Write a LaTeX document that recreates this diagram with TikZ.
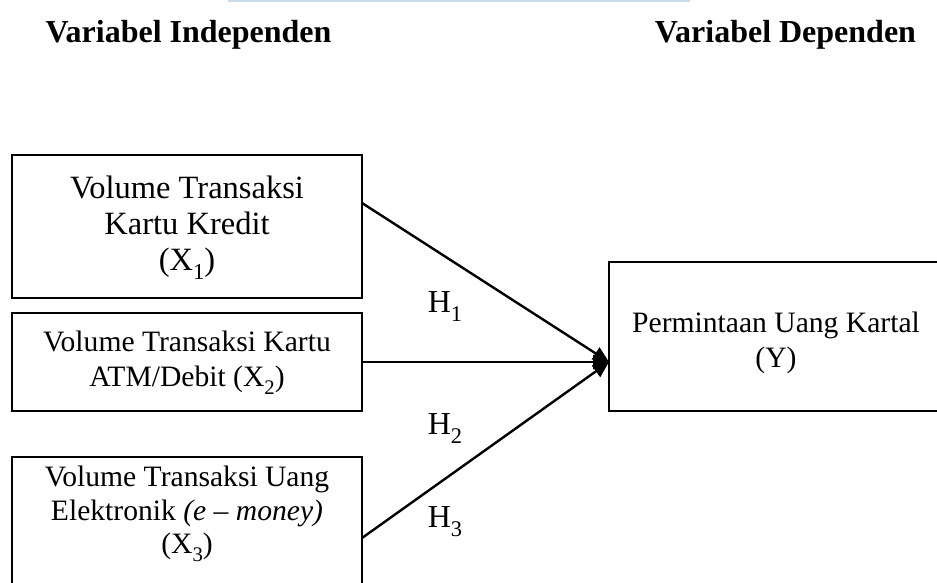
\documentclass[tikz,border=0pt]{standalone}
\usepackage{fontspec}
\setmainfont{Liberation Serif}
\usetikzlibrary{arrows.meta}
\tikzset{
  boxnode/.style={draw=black, line width=1.1pt, inner sep=0pt},
  txt/.style={align=center, font=\fontsize{29.6}{34.5}\selectfont, inner sep=0pt},
  bigtxt/.style={align=center, font=\fontsize{32.5}{36}\selectfont, inner sep=0pt},
  head/.style={font=\fontsize{32}{38}\selectfont\bfseries, anchor=base, inner sep=0pt},
  hlab/.style={font=\fontsize{32}{36}\selectfont, inner sep=0pt},
  link/.style={line width=2.4pt, -{Triangle[length=16pt,width=14pt]}}
}
\newcommand{\Sb}[1]{\raisebox{-0.28em}{\fontsize{0.7em}{0.7em}\selectfont #1}}
\newcommand{\Xs}[1]{X\Sb{#1}}
\begin{document}
\begin{tikzpicture}[x=1pt,y=-1pt]
\clip (0,0) rectangle (937,583);
\fill[fill={rgb,255:red,200;green,220;blue,235}] (228,0) rectangle (690,2.5);
\node[head] (hi) at (188.5,43) {Variabel Independen};
\node[head] (hd) at (785.5,43) {Variabel Dependen};
% boxes
\node[boxnode, minimum width=350pt, minimum height=143pt] (b1) at (187,226.5) {};
\node[bigtxt] (t1) at (187,228) {Volume Transaksi\\Kartu Kredit\\(\Xs{1})};
\node[boxnode, minimum width=350pt, minimum height=98pt] (b2) at (187,362) {};
\node[txt] (t2) at (187,363) {Volume Transaksi Kartu\\ATM/Debit (\Xs{2})};
\node[boxnode, minimum width=350pt, minimum height=150pt] (b3) at (187,532) {};
\node[txt, font=\fontsize{29.6}{33.5}\selectfont] (t3) at (187,514) {Volume Transaksi Uang\\Elektronik \textit{(e -- money)}\\(\Xs{3})};
\node[boxnode, minimum width=360pt, minimum height=149pt] (by) at (789,336.5) {};
\node[txt] (ty) at (776,343) {Permintaan Uang Kartal\\(Y)};
% connectors
\coordinate (tip) at (609,362);
\coordinate (s1) at (362,203);
\coordinate (s3) at (362,538);
\draw[link] (s1) -- (tip);
\draw[link] (b2.east) -- (tip);
\draw[link] (s3) -- (tip);
% labels
\node[hlab] (h1) at (445,307) {H\Sb{1}};
\node[hlab] (h2) at (445,429) {H\Sb{2}};
\node[hlab] (h3) at (445,522) {H\Sb{3}};
\end{tikzpicture}
\end{document}
